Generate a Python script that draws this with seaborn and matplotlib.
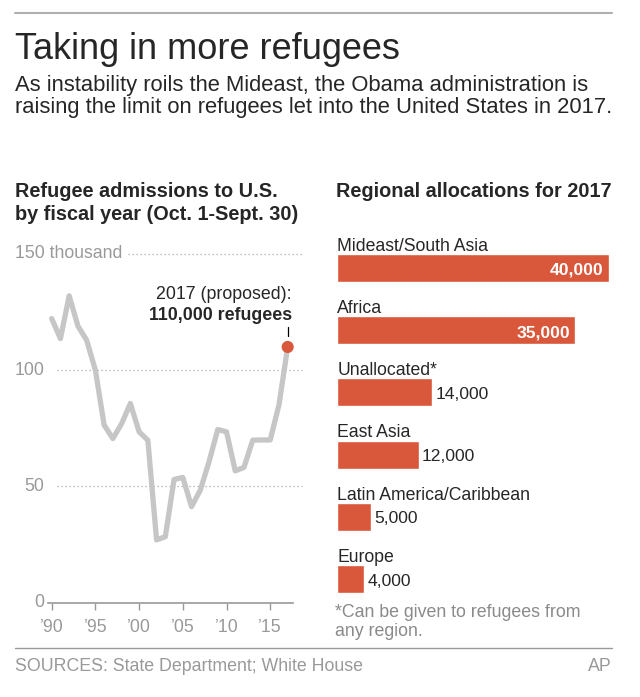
import matplotlib
matplotlib.use('Agg')
import matplotlib.pyplot as plt
import pandas as pd
import seaborn as sns

# Refugee admissions to the U.S. by fiscal year, in thousands (2017 = proposed cap)
years = list(range(1990, 2018))
admissions = [122.2, 113.6, 132.0, 119.0, 112.9, 100.0, 76.4, 70.6, 77.0, 85.7,
              73.5, 69.9, 27.0, 28.4, 53.0, 53.9, 41.3, 48.4, 60.6, 74.5,
              73.5, 56.7, 58.2, 69.9, 70.0, 70.0, 85.0, 110.0]

tick_years = [1990, 1995, 2000, 2005, 2010, 2015]
tick_labels = ['\u201990', '\u201995', '\u201900', '\u201905', '\u201910', '\u201915']
grid_values = [0, 50, 100, 150]
grid_labels = ['0', '50', '100', '150 thousand']

# Regional allocations for 2017
regions = ['Mideast/South Asia', 'Africa', 'Unallocated*', 'East Asia',
           'Latin America/Caribbean', 'Europe']
allocations = [40000, 35000, 14000, 12000, 5000, 4000]

ORANGE = '#d9583b'
LINE_GRAY = '#c6c6c6'
TEXT_GRAY = '#999999'

sns.set_theme(style='white')
plt.rcParams['font.family'] = ['Liberation Sans', 'DejaVu Sans']

W, H = 640, 697
fig = plt.figure(figsize=(W / 100, H / 100), dpi=100)


def fx(px):
    return px / W


def fy(py):
    return 1 - py / H


def axes_px(left, top, right, bottom):
    return fig.add_axes([fx(left), fy(bottom), (right - left) / W, (bottom - top) / H])


# header and footer
fig.add_artist(plt.Line2D([fx(15), fx(612)], [fy(12.7), fy(12.7)], color='#b0b0b0', lw=1.5))
fig.text(fx(15), fy(59), 'Taking in more refugees', size=26, va='baseline')
fig.text(fx(15), fy(91), 'As instability roils the Mideast, the Obama administration is',
         size=15.8, va='baseline')
fig.text(fx(15), fy(113.5), 'raising the limit on refugees let into the United States in 2017.',
         size=15.8, va='baseline')
fig.text(fx(15), fy(196.5), 'Refugee admissions to U.S.', size=14.3, weight='bold', va='baseline')
fig.text(fx(15), fy(220), 'by fiscal year (Oct. 1-Sept. 30)', size=14.3, weight='bold', va='baseline')
fig.text(fx(336), fy(196.5), 'Regional allocations for 2017', size=14.3, weight='bold', va='baseline')

fig.add_artist(plt.Line2D([fx(15), fx(612)], [fy(648.3), fy(648.3)], color='#999999', lw=1))
fig.text(fx(15), fy(671), 'SOURCES: State Department; White House', size=12.8,
         color=TEXT_GRAY, va='baseline')
fig.text(fx(612), fy(671), 'AP', size=12.8, color=TEXT_GRAY, va='baseline', ha='right')

# ---- line chart ----
PX_PER_YEAR = 8.74
X0_PX = 51.7  # pixel of 1990


def xd(px):
    return 1990 + (px - X0_PX) / PX_PER_YEAR


ax = axes_px(45, 230.7, 305, 602.7)
df_line = pd.DataFrame({'year': years, 'admissions': admissions})

for v in grid_values[1:]:
    start = xd(128.3) if v == 150 else xd(57.3)
    ax.hlines(v, start, xd(302), colors='#a8a8a8', linestyles=(0, (1, 2.2)), lw=0.9)

sns.lineplot(data=df_line, x='year', y='admissions', color=LINE_GRAY, lw=3.8,
             solid_joinstyle='round', ax=ax)
sns.scatterplot(data=df_line.iloc[[-1]], x='year', y='admissions', color=ORANGE,
                s=76, edgecolor='none', zorder=5, ax=ax)

ax.set_xlim(xd(45), xd(305))
ax.set_ylim(0, 160)
for side in ['left', 'right', 'top']:
    ax.spines[side].set_visible(False)
ax.spines['bottom'].set_bounds(xd(48.3), xd(292.7))
ax.spines['bottom'].set_color(TEXT_GRAY)
ax.spines['bottom'].set_linewidth(1.2)
ax.set_xticks(tick_years, tick_labels)
ax.set_yticks([])
ax.tick_params(axis='x', bottom=True, length=5, width=1, color=TEXT_GRAY,
               labelcolor=TEXT_GRAY, labelsize=12.7, pad=6.5)
ax.set_xlabel('')
ax.set_ylabel('')

for v, lab in zip(grid_values, grid_labels):
    if v == 150:
        ax.text(xd(15), v, lab, ha='left', va='center', size=12.7, color=TEXT_GRAY)
    else:
        ax.text(xd(44), v, lab, ha='right', va='center', size=12.7, color=TEXT_GRAY)

last_year, last_val = years[-1], admissions[-1]
ax.annotate('2017 (proposed):', xy=(last_year, last_val), xytext=(2.9, 34.8),
            textcoords='offset points', ha='right', va='baseline', size=12.8)
ax.annotate('110,000 refugees', xy=(last_year, last_val), xytext=(2.9, 19.7),
            textcoords='offset points', ha='right', va='baseline', size=12.8, weight='bold')
ax.plot([last_year, last_year], [last_val + 4.7, last_val + 8.7], color='black', lw=0.9)

# ---- bar chart ----
bx = axes_px(337.3, 236.9, 612, 610.3)
df_bar = pd.DataFrame({'region': regions, 'allocation': allocations})
sns.barplot(data=df_bar, x='allocation', y='region', orient='h', color=ORANGE,
            saturation=1, width=0.45, ax=bx)
units_per_px = 40000 / 271.4
bx.set_xlim(0, 274.7 * units_per_px)
bx.set_ylim(5.5, -0.5)
bx.axis('off')

for i, (name, val) in enumerate(zip(regions, allocations)):
    bx.text(0, i - 0.28, name, ha='left', va='baseline', size=12.7)
    if val >= 30000:
        bx.text(val - 5 * units_per_px, i + 0.11, f'{val:,}', ha='right', va='baseline',
                size=12.6, weight='bold', color='white')
    else:
        bx.text(val + 3 * units_per_px, i + 0.105, f'{val:,}', ha='left', va='baseline',
                size=12.6)

fig.text(fx(335), fy(616.7), '*Can be given to refugees from', size=12.8,
         color='#8a8a8a', va='baseline')
fig.text(fx(335), fy(636.5), 'any region.', size=12.8, color='#8a8a8a', va='baseline')

fig.savefig('out.png', dpi=100)
